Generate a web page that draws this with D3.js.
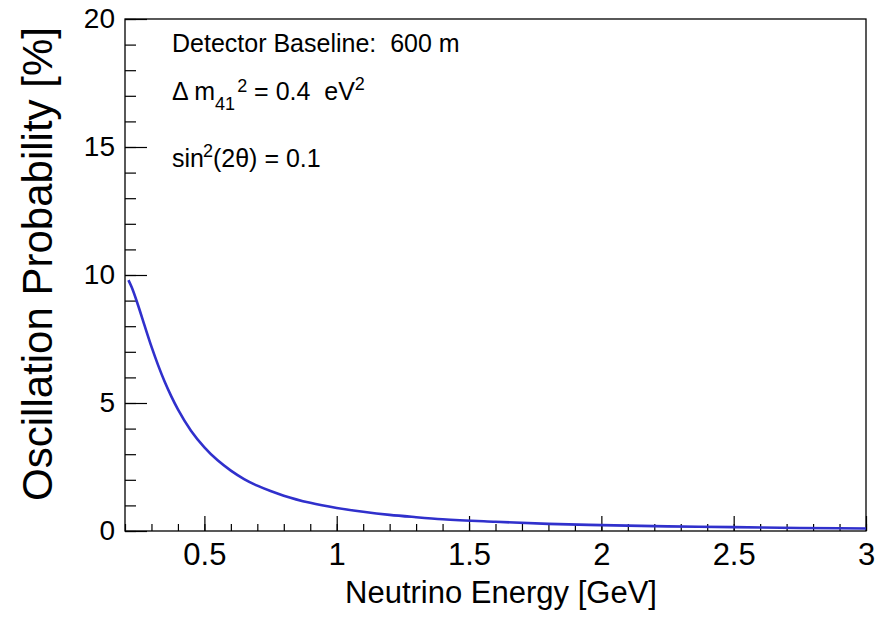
<!DOCTYPE html>
<html>
<head>
<meta charset="utf-8">
<script src="https://cdn.jsdelivr.net/npm/d3@7"></script>
<style>
  body { margin: 0; background: #fff; }
  text { font-family: "Liberation Sans", Arial, Helvetica, sans-serif; fill: #000; white-space: pre; }
</style>
</head>
<body>
<div id="canvas"></div>
<script>
// values
const energy = [0.213, 0.225, 0.25, 0.275, 0.3, 0.325, 0.35, 0.375, 0.4, 0.45, 0.5, 0.55, 0.6, 0.65, 0.7, 0.75, 0.8, 0.9, 1.0, 1.1, 1.2, 1.3, 1.4, 1.6, 1.8, 2.0, 2.25, 2.5, 2.75, 3.0];
const prob = [9.8, 9.53, 8.8, 7.99, 7.2, 6.48, 5.83, 5.26, 4.75, 3.91, 3.27, 2.76, 2.36, 2.03, 1.77, 1.56, 1.38, 1.1, 0.9, 0.75, 0.63, 0.54, 0.46, 0.36, 0.28, 0.23, 0.18, 0.15, 0.12, 0.1];
const xTicks = [0.5, 1, 1.5, 2, 2.5, 3];
const yTicks = [0, 5, 10, 15, 20];

const canvas = d3.select("#canvas");

const createPlot = () => {
  const width = 875;
  const height = 620;
  const margin = { top: 19, left: 125, bottom: 89, right: 9 };
  const iwidth = width - margin.left - margin.right;
  const iheight = height - margin.top - margin.bottom;

  const svg = canvas.append("svg").attr("width", width).attr("height", height);

  const g = svg
    .append("g")
    .attr("transform", `translate(${margin.left},${margin.top})`);

  const x = d3.scaleLinear().domain([0.2, 3]).range([0, iwidth]);
  const y = d3.scaleLinear().domain([0, 20]).range([iheight, 0]);

  // minor ticks
  g.append("g")
    .attr("transform", `translate(0,${iheight})`)
    .call(d3.axisBottom(x).ticks(28).tickSize(-7).tickFormat(""));
  g.append("g").call(d3.axisLeft(y).ticks(20).tickSize(-11).tickFormat(""));

  // major ticks + labels
  g.append("g")
    .classed("x--axis", true)
    .attr("transform", `translate(0,${iheight})`)
    .call(d3.axisBottom(x).tickValues(xTicks).tickSize(-15).tickPadding(12).tickFormat(d3.format("")));
  g.append("g")
    .classed("y--axis", true)
    .call(d3.axisLeft(y).tickValues(yTicks).tickSize(-22).tickPadding(10));

  g.selectAll(".domain").remove();
  g.selectAll(".tick line").attr("stroke", "#000").attr("stroke-width", 1.2);
  g.selectAll(".x--axis .tick text").style("font-size", "31px");
  g.selectAll(".y--axis .tick text").style("font-size", "28px");

  g.append("rect")
    .attr("width", iwidth)
    .attr("height", iheight)
    .attr("fill", "none")
    .attr("stroke", "#000")
    .attr("stroke-width", 1.3);

  const line = d3
    .line()
    .x((d, i) => x(energy[i]))
    .y((d) => y(d))
    .curve(d3.curveMonotoneX);

  g.append("path")
    .datum(prob)
    .attr("d", line)
    .attr("fill", "none")
    .attr("stroke", "#3030cc")
    .attr("stroke-width", 2.6);

  // axis titles
  svg.append("text")
    .attr("x", 501)
    .attr("y", 603)
    .attr("text-anchor", "middle")
    .style("font-size", "31px")
    .text("Neutrino Energy [GeV]");

  svg.append("text")
    .attr("transform", "translate(52,264) rotate(-90)")
    .attr("text-anchor", "middle")
    .style("font-size", "42px")
    .text("Oscillation Probability [%]");

  // annotations
  svg.append("text")
    .attr("x", 172)
    .attr("y", 52)
    .style("font-size", "25px")
    .text("Detector Baseline:  600 m");

  const t2 = svg.append("text").attr("x", 172).attr("y", 100).style("font-size", "25px");
  t2.append("tspan").text("\u0394 m");
  t2.append("tspan").attr("dy", 10).style("font-size", "18px").text("41");
  t2.append("tspan").attr("dy", -18).attr("dx", 2).style("font-size", "18px").text("2");
  t2.append("tspan").attr("dy", 8).text(" = 0.4  eV");
  t2.append("tspan").attr("dy", -10).style("font-size", "18px").text("2");

  const t3 = svg.append("text").attr("x", 172).attr("y", 167).style("font-size", "25px");
  t3.append("tspan").text("sin");
  t3.append("tspan").attr("dy", -10).attr("dx", -1).style("font-size", "18px").text("2");
  t3.append("tspan").attr("dy", 10).text("(2\u03b8) = 0.1");
};

createPlot();
</script>
</body>
</html>
